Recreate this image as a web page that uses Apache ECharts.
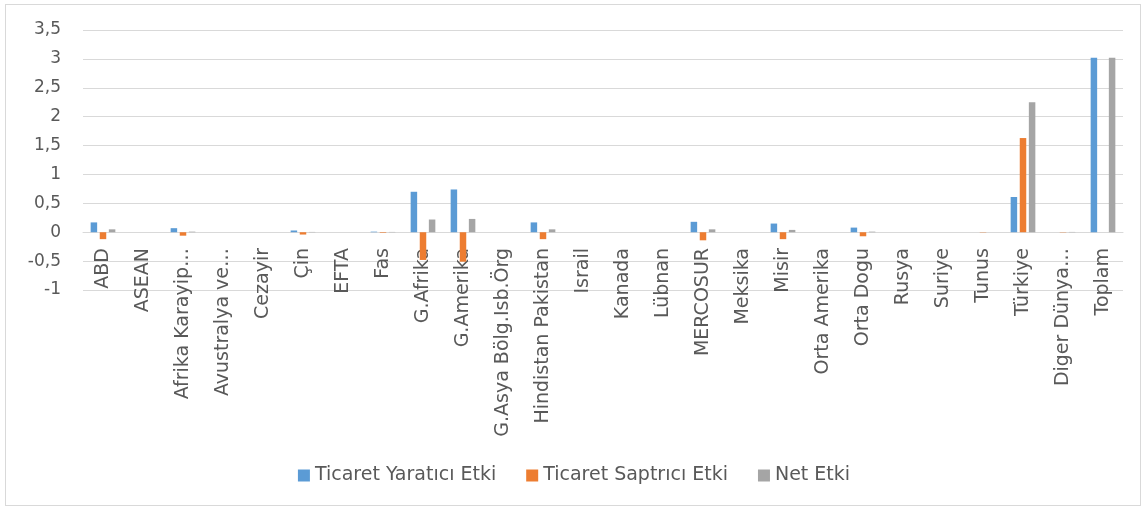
<!DOCTYPE html>
<html><head><meta charset="utf-8">
<script src="https://cdn.jsdelivr.net/npm/echarts@6/dist/echarts.min.js"></script>
<style>
html,body{margin:0;padding:0;background:#fff;}
#frame{position:absolute;left:5px;top:4px;width:1136px;height:502px;border:1px solid #D9D9D9;box-sizing:border-box;}
#c{position:absolute;left:0;top:0;width:1148px;height:512px;}
</style></head>
<body><div id="frame"></div><div id="c"></div>
<script>
const categories = ["ABD","ASEAN","Afrika Karayip…","Avustralya ve…","Cezayir","Çin","EFTA","Fas","G.Afrika","G.Amerika","G.Asya Bölg.Isb.Örg","Hindistan Pakistan","Israil","Kanada","Lübnan","MERCOSUR","Meksika","Misir","Orta Amerika","Orta Dogu","Rusya","Suriye","Tunus","Türkiye","Diger Dünya…","Toplam"];
const yaratici = [0.17,0,0.07,0,0,0.03,0,0.01,0.70,0.74,0,0.17,0,0,0,0.18,0,0.15,0,0.08,0,0,0,0.61,0,3.02];
const saptirici = [-0.12,0,-0.06,0,0,-0.04,0,-0.01,-0.48,-0.51,0,-0.12,0,0,0,-0.14,0,-0.12,0,-0.07,0,0,-0.005,1.63,-0.005,0];
const net = [0.05,0,0.01,0,0,0.005,0,0.005,0.22,0.23,0,0.05,0,0,0,0.05,0,0.04,0,0.01,0,0,0,2.25,0.005,3.02];
const seriesNames = ["Ticaret Yaratıcı Etki","Ticaret Saptrıcı Etki","Net Etki"];
const colors = ["#5B9BD5","#ED7D31","#A5A5A5"];
const yTicks = {min:-1,max:3.5,interval:0.5};

const FONT = "DejaVu Sans";
const chart = echarts.init(document.getElementById('c'));
const mk = (name, data, i) => ({
  name, type:'bar', data, barWidth:6.5, barGap:'40%',
  itemStyle:{color:colors[i]}
});
chart.setOption({
  animation:false,
  textStyle:{fontFamily:FONT,color:'#595959'},
  grid:{left:83,right:25,top:30,bottom:222,containLabel:false},
  legend:{
    top:461, left:'center', itemWidth:12, itemHeight:12, itemGap:30,
    icon:'rect',
    textStyle:{fontFamily:FONT,fontSize:19,color:'#595959'},
    data:seriesNames
  },
  xAxis:{
    type:'category', data:categories,
    axisLine:{onZero:true,lineStyle:{color:'#D9D9D9',width:1}},
    axisTick:{show:false},
    axisLabel:{interval:0,rotate:90,margin:-42,fontFamily:FONT,fontSize:19,color:'#595959'}
  },
  yAxis:{
    type:'value', min:yTicks.min, max:yTicks.max, interval:yTicks.interval,
    axisLine:{show:false}, axisTick:{show:false},
    splitLine:{lineStyle:{color:'#D9D9D9',width:1}},
    axisLabel:{margin:22,fontFamily:FONT,fontSize:17,color:'#595959',
      formatter:v=>String(Math.round(v*10)/10).replace('.',',')}
  },
  series:[mk(seriesNames[0],yaratici,0),mk(seriesNames[1],saptirici,1),mk(seriesNames[2],net,2)]
});
</script></body></html>
